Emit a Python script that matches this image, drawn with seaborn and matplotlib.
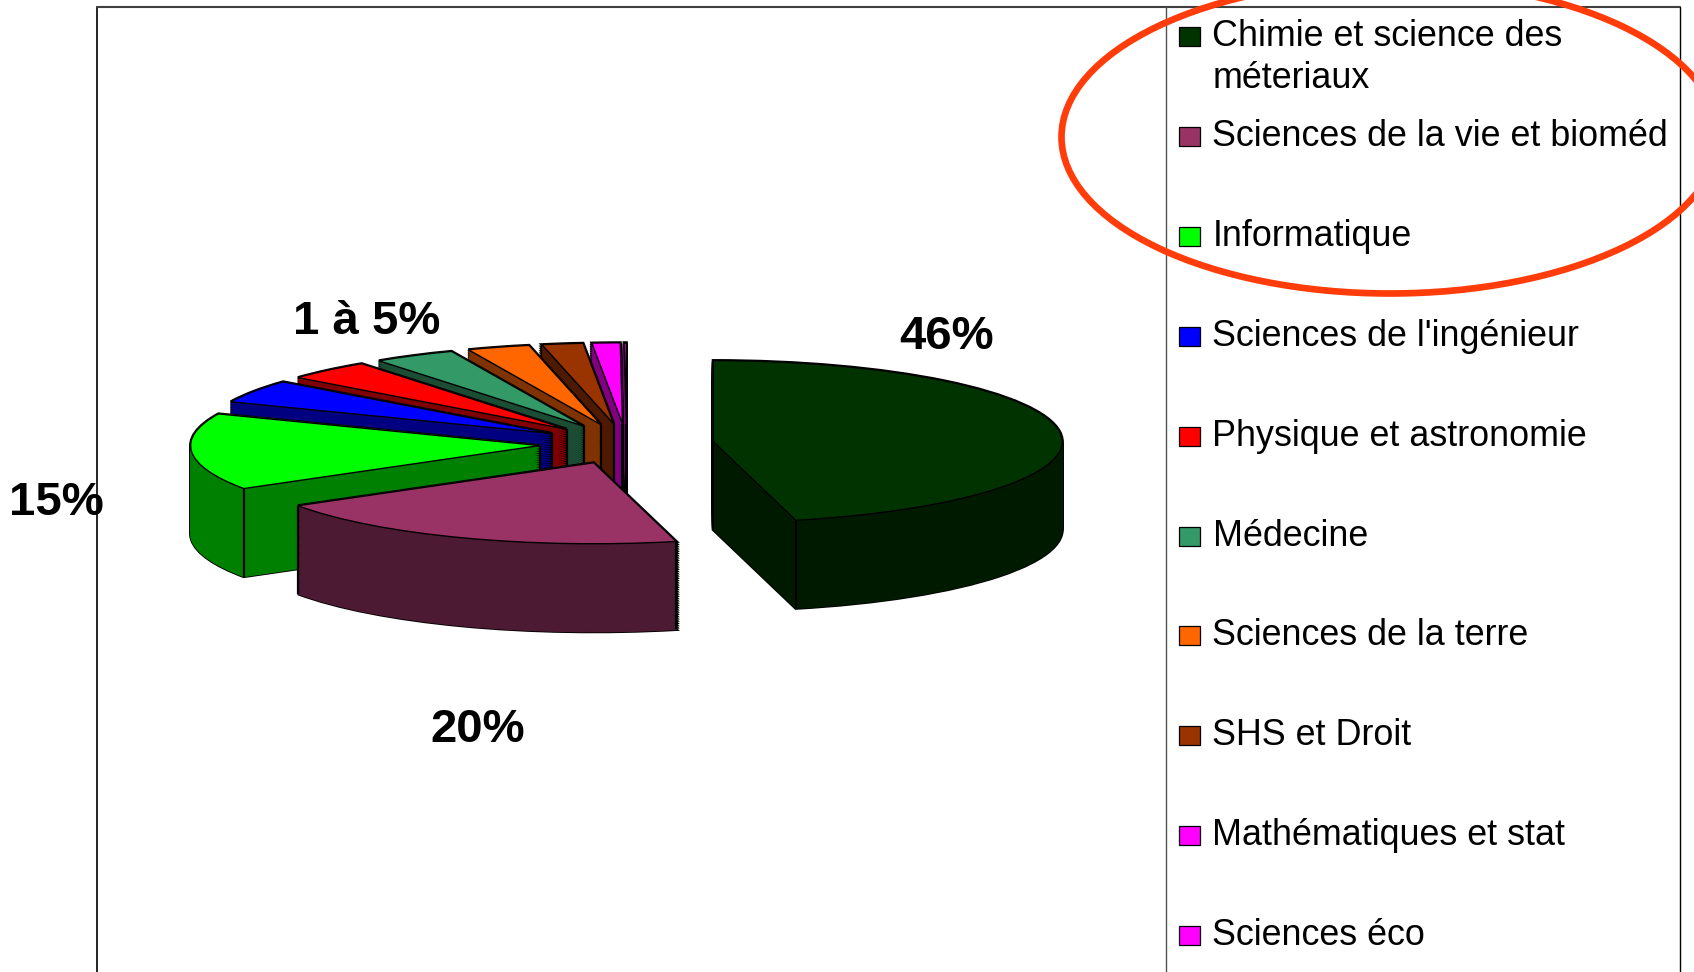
import numpy as np
import matplotlib
matplotlib.use("Agg")
import matplotlib.pyplot as plt
from matplotlib.patches import Ellipse, Rectangle
import seaborn as sns

# Data
categories = ["Chimie et science des\nméteriaux", "Sciences de la vie et bioméd", "Informatique",
              "Sciences de l'ingénieur", "Physique et astronomie", "Médecine",
              "Sciences de la terre", "SHS et Droit", "Mathématiques et stat", "Sciences éco"]
shares = [46.2, 19.9, 15.3, 4.6, 4.0, 3.8, 2.9, 1.9, 1.3, 0.1]
top_colors = ["#003300", "#993366", "#00ff00", "#0000ff", "#ff0000",
              "#339966", "#ff6600", "#993300", "#ff00ff", "#ff00ff"]
pct_labels = ["46%", "20%", "15%", "1 à 5%"]

sns.set_theme(style="white")
plt.rcParams['font.family'] = ['Liberation Sans', 'DejaVu Sans']

W, H = 1694, 972
# pie geometry in pixels
cx, cy, rx, ry, depth = 626.6, 444, 349, 81, 88
explode_r = 0.25
layers = 40

palette = sns.color_palette(top_colors)
wall_colors = [tuple(c * 0.5 for c in col) for col in palette]
explode = [explode_r] * len(shares)

fig = plt.figure(figsize=(W / 100, H / 100), dpi=100)
ax = fig.add_axes([0, 0, 1, 1])
ax.patch.set_alpha(0)


def draw_pie(y_off, colors, z, edges, lw):
    wedges, _ = ax.pie(shares, explode=explode, colors=colors, startangle=90, counterclock=False,
                       center=(0, y_off), wedgeprops=dict(linewidth=lw))
    # back wedges first, the big front ones last
    for i, w in enumerate(wedges):
        w.set_edgecolor(edges[i])
        w.set_zorder(len(shares) - i + z)


# side walls: stacked copies of the pie, black pass first so that the outline stays
offs = np.linspace(-depth / ry, 0, layers)
for off in offs:
    draw_pie(off, ["black"] * len(shares), 0.1, ["black"] * len(shares), 2.2)
for off in offs:
    draw_pie(off, wall_colors, 0.2, wall_colors, 0.9)
draw_pie(0, palette, 0.4, ["black"] * len(shares), 1.0)

# vertical edges of the walls, only where they face the viewer
ends = np.cumsum(shares) / 100 * 2 * np.pi
starts = ends - np.array(shares) / 100 * 2 * np.pi
for i in range(len(shares)):
    mid = (starts[i] + ends[i]) / 2
    ox, oy = explode_r * np.sin(mid), explode_r * np.cos(mid)
    edges = []
    if not starts[i] < np.pi < ends[i]:
        edges.append((ox, oy))
    for ang in (starts[i], ends[i]):
        if np.cos(ang) < 0:
            edges.append((ox + np.sin(ang), oy + np.cos(ang)))
    for px, py in edges:
        ax.plot([px, px], [py, py - depth / ry], color="black", lw=1.6,
                zorder=len(shares) - i + 0.3, solid_capstyle="butt")

ax.set_aspect("auto")
ax.set_xlim((0 - cx) / rx, (W - cx) / rx)
ax.set_ylim((cy - H) / ry, cy / ry)
ax.axis("off")

# overlay in pixel coordinates for frame, labels and legend
ov = fig.add_axes([0, 0, 1, 1])
ov.patch.set_alpha(0)
ov.set_xlim(0, W)
ov.set_ylim(H, 0)
ov.axis("off")

ov.plot([96.5, 96.5], [H, 7], color="black", lw=1.2)
ov.plot([96.5, 1680], [7, 7], color="#404040", lw=1.5)
ov.plot([1166, 1166], [7, H], color="#505050", lw=1.0)
ov.plot([1680, 1680], [7, H], color="black", lw=1.0)

label_pos = [(947, 336.5), (478, 729.5), (56, 502.5), (367, 321.5)]
for txt, (lx, ly) in zip(pct_labels, label_pos):
    ov.text(lx, ly, txt, fontsize=34, fontweight="bold", ha="center", va="center", color="black")

row_y = 37 + 99.8 * np.arange(len(categories))
for name, col, y in zip(categories, palette, row_y):
    ov.add_patch(Rectangle((1179, y - 9.5), 21, 19, facecolor=col, edgecolor="black", lw=0.9))
    first, *rest = name.split("\n")
    ov.text(1212.5, y, first, fontsize=25.8, va="center", ha="left", color="black")
    for k, line in enumerate(rest):
        ov.text(1212.5, y + 42 * (k + 1), line, fontsize=25.8, va="center", ha="left", color="black")

ov.add_patch(Ellipse((1390, 137), 657, 313, fill=False, edgecolor="#ff3c0a", lw=4.8, zorder=5))

fig.savefig("out.png", dpi=100)
